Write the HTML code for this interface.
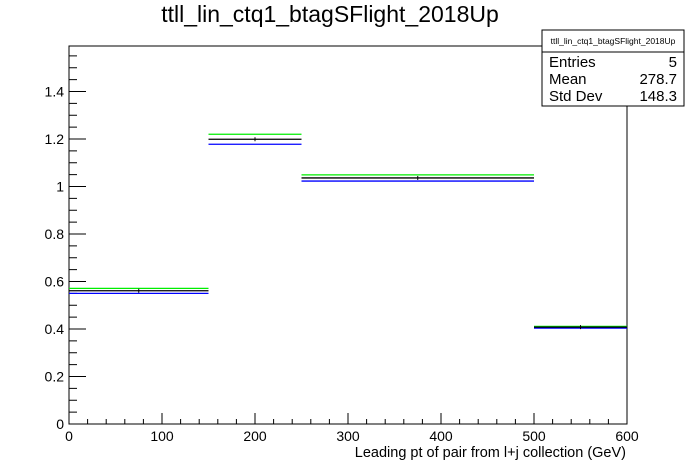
<!DOCTYPE html>
<html><head><meta charset="utf-8"><style>
html,body{margin:0;padding:0;background:#fff;}
svg{display:block;font-family:"Liberation Sans",Arial,sans-serif;}
</style></head><body>
<svg id="chart" width="696" height="472" viewBox="0 0 696 472">
<text x="330" y="22" text-anchor="middle" font-size="23">ttll_lin_ctq1_btagSFlight_2018Up</text>
<g id="axes"></g>
<g id="marks"></g>
<g>
<rect x="542" y="30" width="142" height="76" fill="#fff" stroke="#000" stroke-width="1"/>
<line x1="542" y1="52" x2="684" y2="52" stroke="#000"/>
<text x="613" y="44" text-anchor="middle" font-size="8.5">ttll_lin_ctq1_btagSFlight_2018Up</text>
<text x="549" y="67" font-size="15">Entries</text>
<text x="677" y="67" text-anchor="end" font-size="15">5</text>
<text x="549" y="84" font-size="15">Mean</text>
<text x="677" y="84" text-anchor="end" font-size="15">278.7</text>
<text x="549" y="101" font-size="15">Std Dev</text>
<text x="677" y="101" text-anchor="end" font-size="15">148.3</text>
</g>
<text x="626" y="457" text-anchor="end" font-size="14.5">Leading pt of pair from l+j collection (GeV)</text>
</svg>
<script>
const binEdges = [0, 150, 250, 500, 600];
const nominalValues = [0.561, 1.199, 1.036, 0.408];
const upValues = [0.571, 1.220, 1.049, 0.411];
const downValues = [0.550, 1.178, 1.023, 0.404];
const xTicks = [0, 100, 200, 300, 400, 500, 600];
const yTicks = [0, 0.2, 0.4, 0.6, 0.8, 1, 1.2, 1.4];
const yTickLabels = ["0", "0.2", "0.4", "0.6", "0.8", "1", "1.2", "1.4"];

const X0 = 69, X1 = 627, Y0 = 424, Y1 = 46;
const xMin = 0, xMax = 600, yMin = 0, yMax = 1.5916;
const xs = v => X0 + (v - xMin) / (xMax - xMin) * (X1 - X0);
const ys = v => Y0 - (v - yMin) / (yMax - yMin) * (Y0 - Y1);
const NS = "http://www.w3.org/2000/svg";
const axes = document.getElementById("axes");
const marks = document.getElementById("marks");
function mk(tag, attrs, parent) {
  const e = document.createElementNS(NS, tag);
  for (const k in attrs) e.setAttribute(k, attrs[k]);
  parent.appendChild(e);
  return e;
}
const frame = mk("rect", {x: X0, y: Y1, width: X1 - X0, height: Y0 - Y1, fill: "none", stroke: "#000", "stroke-width": 1}, axes);


// x ticks
for (let v = 0; v <= 600; v += 20) {
  const major = v % 100 === 0;
  const t = mk("line", {x1: xs(v), x2: xs(v), y1: Y0, y2: Y0 - (major ? 11 : 5), stroke: "#000"}, axes);
  
  
}
xTicks.forEach(v => {
  const t = mk("text", {x: xs(v), y: Y0 + 17, "text-anchor": "middle", "font-size": 14}, axes);
  t.textContent = String(v);
  
  
});
// y ticks
for (let i = 0; i * 0.05 <= yMax; i++) {
  const v = i * 0.05;
  const major = i % 4 === 0;
  const t = mk("line", {x1: X0, x2: X0 + (major ? 17 : 8), y1: ys(v), y2: ys(v), stroke: "#000"}, axes);
  
  
}
yTicks.forEach((v, i) => {
  const t = mk("text", {x: X0 - 5, y: ys(v) + 5, "text-anchor": "end", "font-size": 14}, axes);
  t.textContent = yTickLabels[i];
  
  
});
function series(vals, color, name) {
  vals.forEach((v, i) => {
    const l = mk("line", {x1: xs(binEdges[i]), x2: xs(binEdges[i + 1]), y1: ys(v), y2: ys(v), stroke: color, "stroke-width": 1.3}, marks);
    
    
  });
}
series(upValues, "#00ee00", "up-variation");
series(downValues, "#0000ff", "down-variation");
series(nominalValues, "#000000", "nominal");
nominalValues.forEach((v, i) => {
  const c = (binEdges[i] + binEdges[i + 1]) / 2;
  const e = mk("line", {x1: xs(c), x2: xs(c), y1: ys(v) - 2, y2: ys(v) + 2, stroke: "#000"}, marks);
  
  
});
</script>
</body></html>
